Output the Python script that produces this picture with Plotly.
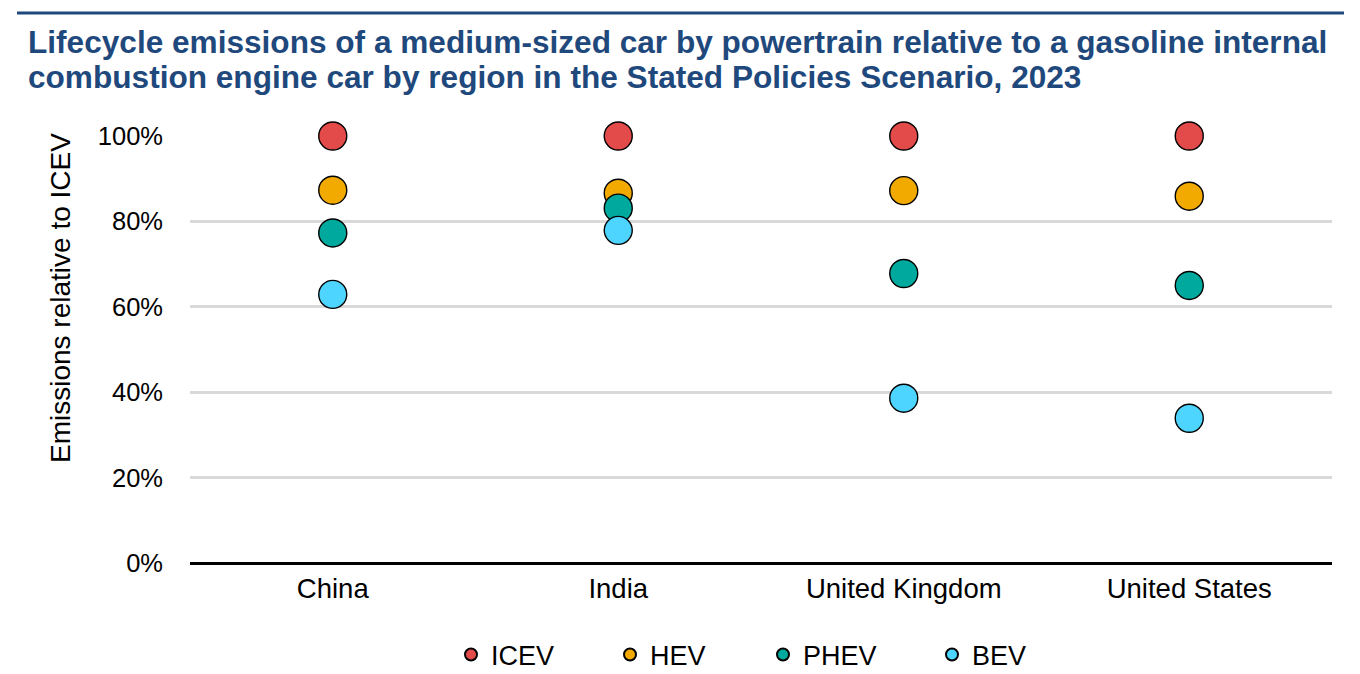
import plotly.graph_objects as go

regions = ["China", "India", "United Kingdom", "United States"]
ICEV = [100, 100, 100, 100]
HEV = [87.3, 86.6, 87.2, 85.9]
PHEV = [77.3, 83.1, 67.8, 65.0]
BEV = [62.9, 77.9, 38.6, 33.9]

series = [
    ("ICEV", ICEV, "#e34a4a"),
    ("HEV", HEV, "#f2a900"),
    ("PHEV", PHEV, "#00a99d"),
    ("BEV", BEV, "#4dd5ff"),
]

font_family = "Liberation Sans, Arial, sans-serif"

# page offset of the plot div (body margin) is compensated
W, H = 1352, 666
OFF = 8


def px(X):
    return (X - OFF) / W


def py(Y):
    return 1 - (Y - OFF) / H


legend_marker_x = [474, 633, 786, 955]

fig = go.Figure()
layout_legends = {}
for i, (name, vals, color) in enumerate(series):
    lname = "legend" if i == 0 else f"legend{i + 1}"
    fig.add_trace(go.Scatter(
        x=regions, y=vals, name=name, mode="markers",
        marker=dict(size=28, color=color, line=dict(color="black", width=1.4)),
        cliponaxis=False, legend=lname,
    ))
    layout_legends[lname] = dict(
        orientation="h", x=px(legend_marker_x[i] - 3 - 20), xanchor="left",
        y=py(655), yanchor="middle", font=dict(size=27), itemsizing="constant",
        bgcolor="rgba(0,0,0,0)", entrywidth=110, entrywidthmode="pixels",
    )

fig.update_layout(
    width=W, height=H,
    margin=dict(l=0, r=0, t=0, b=0, autoexpand=False),
    paper_bgcolor="white", plot_bgcolor="white",
    font=dict(family=font_family, size=26, color="black"),
    xaxis=dict(
        type="category", showgrid=False, ticks="", showline=False,
        tickfont=dict(size=27.5), zeroline=False, range=[-0.5, 3.5],
        domain=[px(190), px(1332)], ticklabelstandoff=6,
    ),
    yaxis=dict(
        range=[0, 100], tickvals=[0, 20, 40, 60, 80, 100],
        ticktext=["0%", "20%", "40%", "60%", "80%", "100%"],
        showgrid=True, gridcolor="#d9d9d9", gridwidth=3,
        zeroline=True, zerolinecolor="black", zerolinewidth=3,
        showline=False, ticks="", tickfont=dict(size=25.5),
        ticklabelstandoff=26,
        domain=[py(563), py(136)],
    ),
    showlegend=True,
    **layout_legends,
)

fig.add_annotation(
    text="<b>Lifecycle emissions of a medium-sized car by powertrain relative to a gasoline internal</b>",
    xref="paper", yref="paper", x=px(26), y=py(42), xanchor="left", yanchor="middle",
    showarrow=False, font=dict(family=font_family, size=31.6, color="#1f497d"),
)
fig.add_annotation(
    text="<b>combustion engine car by region in the Stated Policies Scenario, 2023</b>",
    xref="paper", yref="paper", x=px(26), y=py(77), xanchor="left", yanchor="middle",
    showarrow=False, font=dict(family=font_family, size=31.6, color="#1f497d"),
)
fig.add_annotation(
    text="Emissions relative to ICEV",
    xref="paper", yref="paper", x=px(60), y=py(298), xanchor="center", yanchor="middle",
    textangle=-90, showarrow=False, font=dict(family=font_family, size=28, color="black"),
)

fig.add_shape(type="line", xref="paper", yref="paper",
              x0=px(17), x1=px(1344), y0=py(13), y1=py(13),
              line=dict(color="#1f497d", width=3))

fig.write_html("out.html")
